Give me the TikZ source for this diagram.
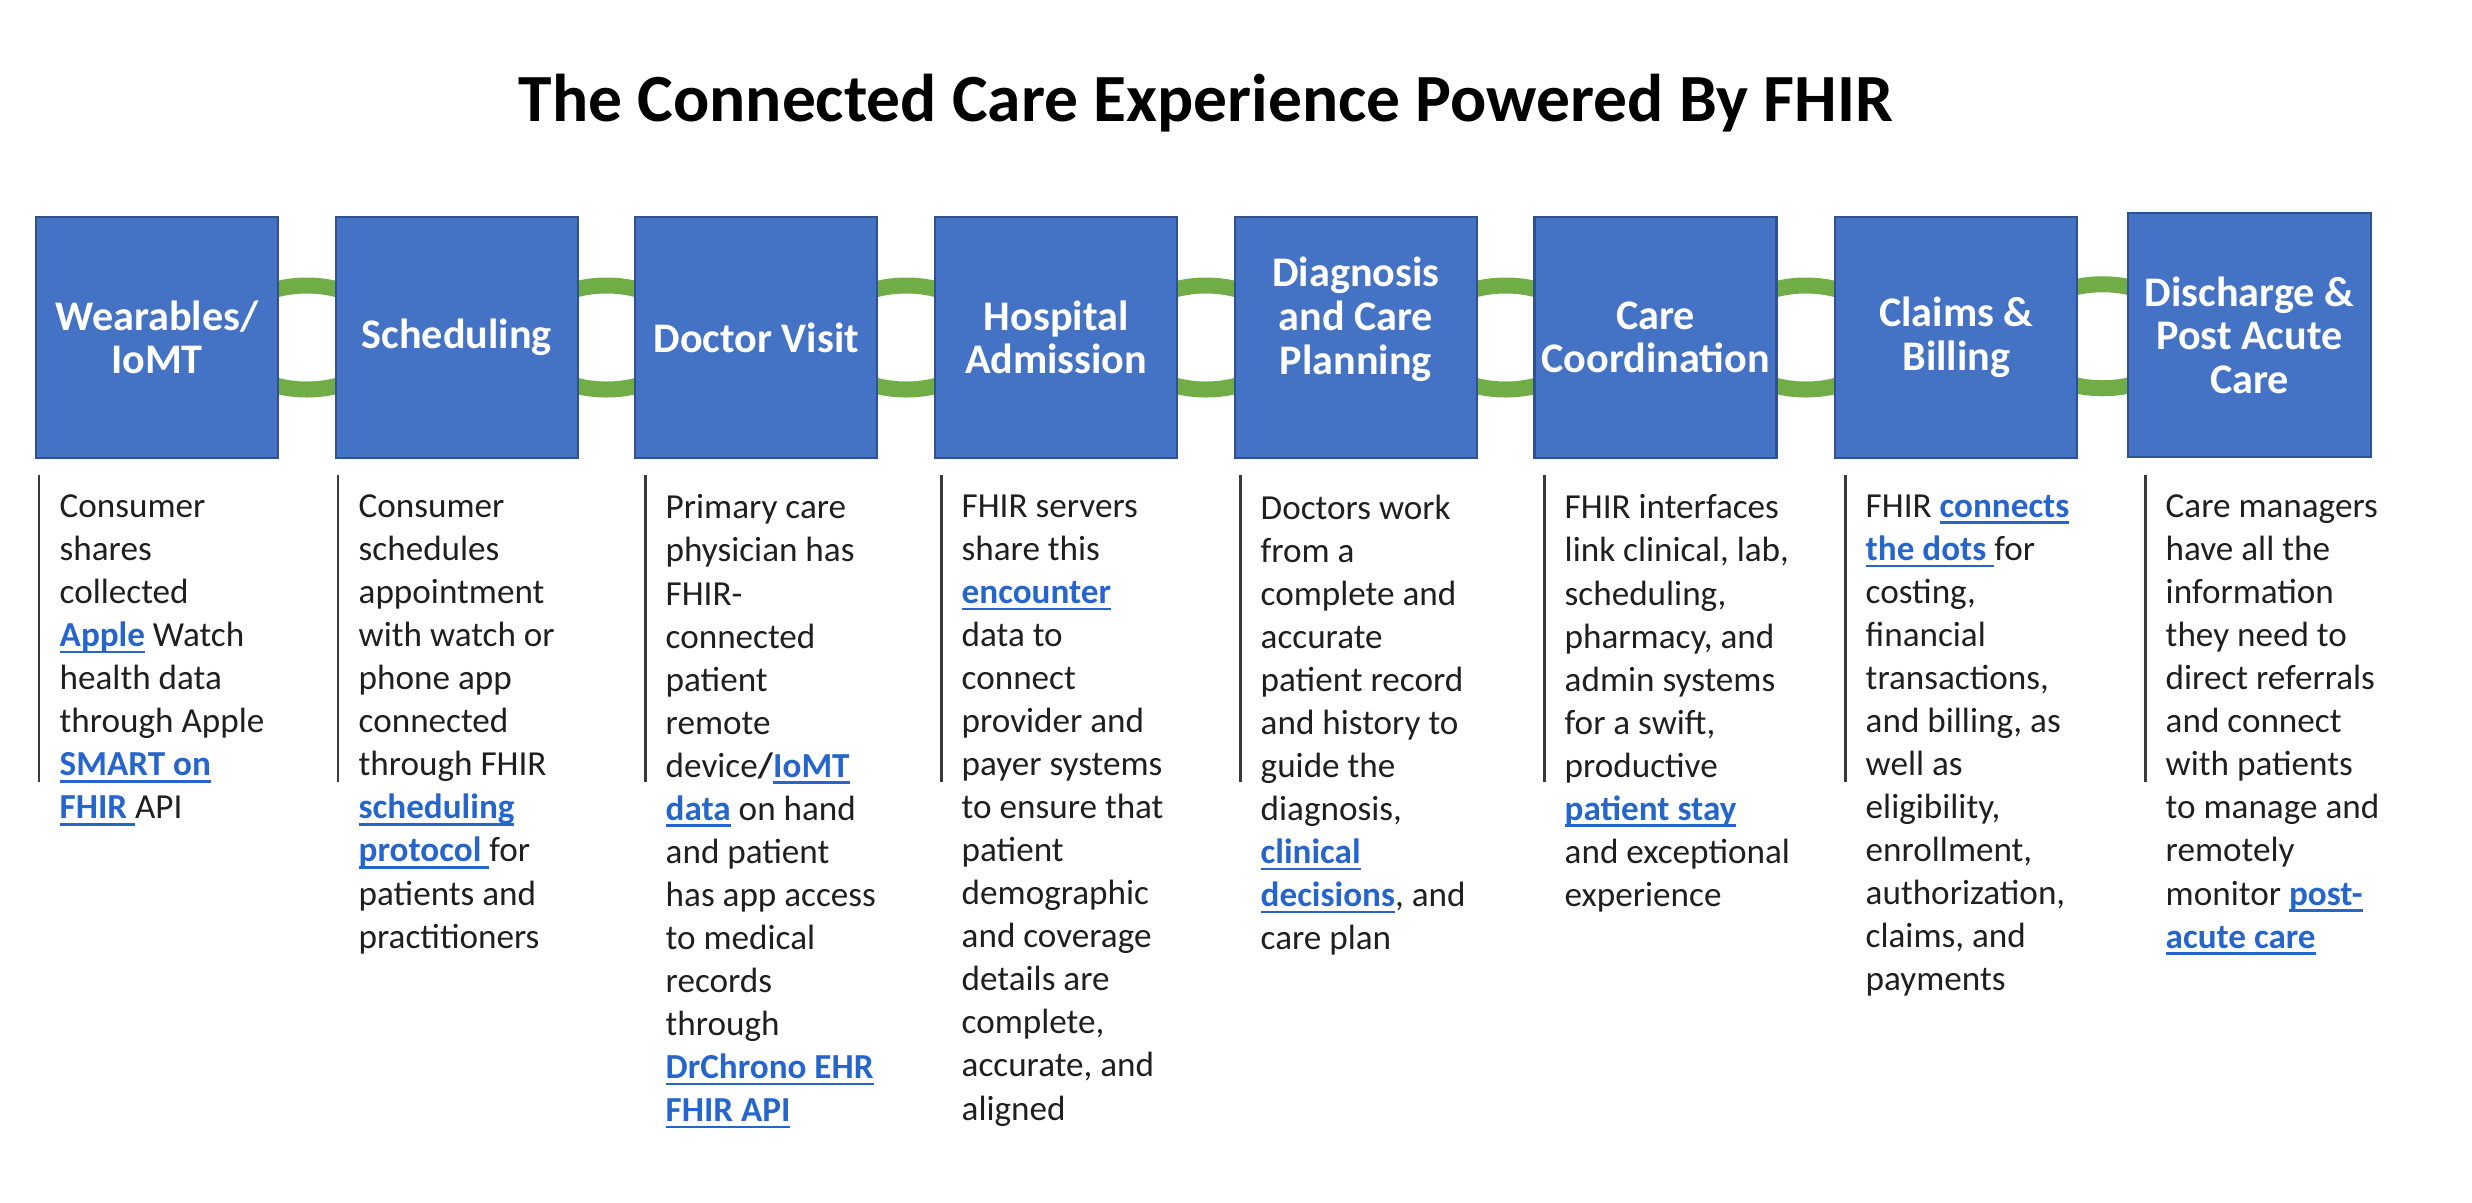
\documentclass[tikz,border=0pt]{standalone}
\usepackage{fontspec}
\setmainfont{Carlito}
\usepackage{tikz}
\usetikzlibrary{calc}
\pgfdeclarelayer{background}
\pgfsetlayers{background,main}

\definecolor{boxblue}{HTML}{4472C4}
\definecolor{boxline}{HTML}{2F528F}
\definecolor{ringgreen}{HTML}{70AD47}
\definecolor{linkblue}{HTML}{2666CC}
\definecolor{rulegray}{HTML}{3A3A3A}

\newcommand\lnk[1]{{\color{linkblue}\bfseries\setbox0=\hbox{#1}\rlap{\rule[-1.9pt]{\wd0}{0.7pt}}\box0}}

\begin{document}
\begin{tikzpicture}[x=0.1mm,y=-0.1mm,
    stage/.style={draw=boxline,line width=0.6pt,fill=boxblue,text=white,
        font=\fontsize{12}{12.4}\selectfont\bfseries,align=center,
        minimum width=24.2mm,minimum height=24.1mm,inner sep=0pt},
    blurb/.style={anchor=north west,align=left,inner sep=0pt,
        font=\fontsize{10}{12.25}\selectfont,text=black!88,
        execute at begin node=\rule{0pt}{8pt}},
    ring/.style={draw=ringgreen,line width=1.6mm},
    colrule/.style={draw=rulegray,line width=0.85pt}]
\useasboundingbox (0,0) rectangle (2472,1202);

\node[font=\fontsize{19.2}{24}\selectfont\bfseries,anchor=base] (title) at (1206,121)
    {The Connected Care Experience Powered By FHIR};

\node[stage] (b1) at (157,337.5) {Wearables/\\IoMT};
\node[stage] (b2) at (456.7,337.5) {Scheduling};
\node[stage] (b3) at (756.4,337.5) {Doctor Visit};
\node[stage] (b4) at (1056.1,337.5) {Hospital\\Admission};
\node[stage] (b5) at (1355.8,337.5) {Diagnosis\\and Care\\Planning\\\mbox{}};
\node[stage] (b6) at (1655.5,337.5) {Care\\Coordination};
\node[stage] (b7) at (1956.2,337.5) {Claims \&\\Billing};
\node[stage,minimum width=24.3mm,minimum height=24.4mm] (b8) at (2249.5,335)
    {Discharge \&\\Post Acute\\Care};

\begin{pgfonlayer}{background}
\foreach \a/\b in {b1/b2,b2/b3,b3/b4,b4/b5,b5/b6,b6/b7,b7/b8}
    \draw[ring] ($(\a.east)!0.5!(\b.west)$) ellipse [x radius=81,y radius=52];
\end{pgfonlayer}

\node[blurb] (t1) at (59,494) {Consumer\\shares\\collected\\\lnk{Apple} Watch\\health data\\through Apple\\\lnk{SMART on}\\\lnk{FHIR\ }API};
\node[blurb] (t2) at (358,494) {Consumer\\schedules\\appointment\\with watch or\\phone app\\connected\\through FHIR\\\lnk{scheduling}\\\lnk{protocol\ }for\\patients and\\practitioners};
\node[blurb] (t3) at (665,494) {Primary care\\physician has\\FHIR-\\connected\\patient\\remote\\device\textbf{/}\lnk{IoMT}\\\lnk{data} on hand\\and patient\\has app access\\to medical\\records\\through\\\lnk{DrChrono EHR}\\\lnk{FHIR API}};
\node[blurb] (t4) at (961,494) {FHIR servers\\share this\\\lnk{encounter}\\data to\\connect\\provider and\\payer systems\\to ensure that\\patient\\demographic\\and coverage\\details are\\complete,\\accurate, and\\aligned};
\node[blurb] (t5) at (1260,494) {Doctors work\\from a\\complete and\\accurate\\patient record\\and history to\\guide the\\diagnosis,\\\lnk{clinical}\\\lnk{decisions}, and\\care plan};
\node[blurb] (t6) at (1564,494) {FHIR interfaces\\link clinical, lab,\\scheduling,\\pharmacy, and\\admin systems\\for a swift,\\productive\\\lnk{patient stay}\\and exceptional\\experience};
\node[blurb] (t7) at (1865,494) {FHIR \lnk{connects}\\\lnk{the dots\ }for\\costing,\\financial\\transactions,\\and billing, as\\well as\\eligibility,\\enrollment,\\authorization,\\claims, and\\payments};
\node[blurb] (t8) at (2165,494) {Care managers\\have all the\\information\\they need to\\direct referrals\\and connect\\with patients\\to manage and\\remotely\\monitor \lnk{post-}\\\lnk{acute care}};

\foreach \t in {t1,t2,t3,t4,t5,t6,t7,t8}
    \draw[colrule] ($(\t.north west)+(-20,-19)$) -- ++(0,307);
\end{tikzpicture}
\end{document}
